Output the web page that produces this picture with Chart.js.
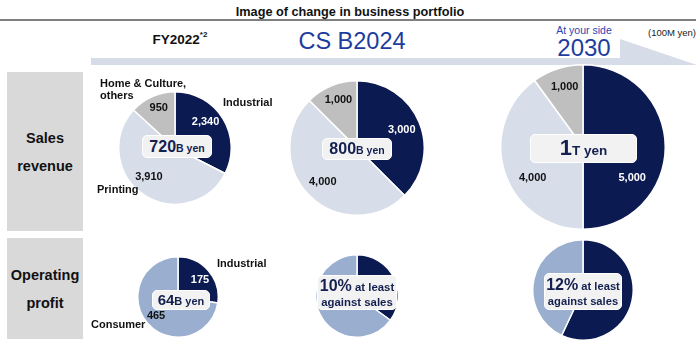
<!DOCTYPE html>
<html>
<head>
<meta charset="utf-8">
<script src="https://cdn.jsdelivr.net/npm/chart.js@4.4.1/dist/chart.umd.min.js"></script>
<style>
  html, body { margin: 0; padding: 0; background: #fff; }
  #wrap { position: relative; width: 700px; height: 353px; overflow: hidden; background: #fff;
          font-family: "Liberation Sans", Arial, sans-serif; color: #111; }
  .abs { position: absolute; white-space: nowrap; }
  .c { transform: translate(-50%, -50%); text-align: center; }
  .lc { transform: translate(0, -50%); }
  .hdr { position: absolute; background: #d9d9d9; }
  .hdrtxt { font-weight: bold; font-size: 14.5px; color: #111; }
  .cat { font-weight: bold; font-size: 11px; color: #111; }
  .box { position: absolute; background: #f2f2f2; border: 1px solid #fff; border-radius: 5px;
         color: #14204f; font-weight: bold; display: flex; flex-direction: column;
         align-items: center; justify-content: center; line-height: 1.1; white-space: nowrap;
         box-sizing: border-box; }
  canvas { position: absolute; }
</style>
</head>
<body>
<div id="wrap">
  <div class="abs c" style="left:350px;top:12px;font-weight:bold;font-size:12.7px;">Image of change in business portfolio</div>
  <div class="abs" style="left:0;top:19px;width:696px;height:2px;background:#7f7f7f;"></div>

  <svg class="abs" style="left:0;top:0;" width="700" height="80">
    <polygon points="91,58 620,58 620,39 697,65 91,65" fill="#d6dde9"></polygon>
    <rect x="545" y="22" width="75" height="36" fill="#fff"></rect>
  </svg>

  <div class="abs c" style="left:180px;top:39px;font-weight:bold;font-size:13.5px;">FY2022<sup style="font-size:8px;position:relative;top:-1px;">*2</sup></div>
  <div class="abs c" style="left:352px;top:41px;font-size:23.5px;color:#1e3c9e;">CS B2024</div>
  <div class="abs c" style="left:584px;top:30px;font-size:10.5px;color:#2a45b0;">At your side</div>
  <div class="abs c" style="left:584px;top:48px;color:#1e3c9e;font-size:24px;">2030</div>
  <div class="abs c" style="left:672px;top:32px;font-size:9.5px;color:#222;">(100M yen)</div>

  <div class="hdr" style="left:7px;top:72px;width:76px;height:159px;"></div>
  <div class="abs c hdrtxt" style="left:45px;top:138px;">Sales</div>
  <div class="abs c hdrtxt" style="left:45px;top:166px;">revenue</div>
  <div class="hdr" style="left:7px;top:238px;width:76px;height:101px;"></div>
  <div class="abs c hdrtxt" style="left:45px;top:275px;">Operating</div>
  <div class="abs c hdrtxt" style="left:45px;top:303px;">profit</div>

  <div id="charts"></div>
  <div id="overlay"></div>
</div>

<script>
// ---------------- data ----------------
const periods = ['FY2022', 'CS B2024', '2030'];
const salesSegments = ['Industrial', 'Printing', 'Home & Culture, others'];
const salesIndustrial = [2340, 3000, 5000];
const salesPrinting   = [3910, 4000, 4000];
const salesHome       = [950, 1000, 1000];
const salesTotals     = ['720', '800', '1'];
const salesUnits      = ['B yen', 'B yen', 'T yen'];

const profitSegments   = ['Industrial', 'Consumer'];
const profitIndustrial = [175, 35, 57];   // 2nd/3rd: shares (unlabelled)
const profitConsumer   = [465, 65, 43];
const profitShowValues = [true, false, false];
const profitHeadline   = ['64', '10%', '12%'];
const profitUnits      = ['B yen', 'at least', 'at least'];
const profitSubline    = ['', 'against sales', 'against sales'];

// ---------------- styles ----------------
const NAVY = '#0b1a51', LIGHT = '#d7dde9', GRAY = '#bfbfbf', STEEL = '#9aafcf';

const sliceLabels = {
  id: 'sliceLabels',
  afterDatasetsDraw(chart, args, opts) {
    if (!opts.show) return;
    const ctx = chart.ctx;
    const meta = chart.getDatasetMeta(0);
    const ds = chart.data.datasets[0];
    ctx.save();
    ctx.font = 'bold 11px "Liberation Sans", Arial, sans-serif';
    ctx.textAlign = 'center';
    ctx.textBaseline = 'middle';
    meta.data.forEach((arc, i) => {
      const p = arc.getProps(['x', 'y', 'startAngle', 'endAngle', 'outerRadius'], true);
      const mid = (p.startAngle + p.endAngle) / 2;
      const f = (opts.factor && opts.factor[i]) || 0.72;
      const n = (opts.nudge && opts.nudge[i]) || [0, 0];
      const x = p.x + Math.cos(mid) * p.outerRadius * f + n[0];
      const y = p.y + Math.sin(mid) * p.outerRadius * f + n[1];
      ctx.fillStyle = opts.colors[i];
      ctx.fillText(ds.data[i].toLocaleString('en-US'), x, y);
    });
    ctx.restore();
  }
};

function makePie(cx, cy, r, data, colors, labelOpts) {
  const size = Math.round(2 * r + 2);
  const cv = document.createElement('canvas');
  cv.width = size; cv.height = size;
  cv.style.left = (cx - size / 2) + 'px';
  cv.style.top = (cy - size / 2) + 'px';
  cv.style.width = size + 'px'; cv.style.height = size + 'px';
  document.getElementById('charts').appendChild(cv);
  new Chart(cv, {
    type: 'pie',
    data: { labels: data.labels, datasets: [{ data: data.values, backgroundColor: colors,
            borderColor: '#ffffff', borderWidth: 1.5 }] },
    options: {
      responsive: false, animation: false, devicePixelRatio: 1,
      layout: { padding: 0 },
      plugins: { legend: { display: false }, tooltip: { enabled: false }, sliceLabels: labelOpts }
    },
    plugins: [sliceLabels]
  });
}

const salesGeo = [[175, 148, 56], [357, 148, 67], [583, 147, 82]];
const salesNudges = [
  [[-4, -5], [-3, -4], [0, -3]],
  [[0, 0], [0, 0], [0, -3]],
  [[-10, 31], [6, 13], [0, -4]]
];
periods.forEach((p, k) => {
  const [cx, cy, r] = salesGeo[k];
  makePie(cx, cy, r,
    { labels: salesSegments, values: [salesIndustrial[k], salesPrinting[k], salesHome[k]] },
    [NAVY, LIGHT, GRAY],
    { show: true, colors: ['#ffffff', '#111111', '#111111'], nudge: salesNudges[k] });
});

const profitGeo = [[178, 297, 40], [357, 296, 41], [583, 290, 50]];
periods.forEach((p, k) => {
  const [cx, cy, r] = profitGeo[k];
  makePie(cx, cy, r,
    { labels: profitSegments, values: [profitIndustrial[k], profitConsumer[k]] },
    [NAVY, STEEL],
    { show: profitShowValues[k], colors: ['#ffffff', '#111111'], factor: [0.72, 0.72], nudge: [[0, 2], [0, 0]] });
});

// ---------------- overlay text ----------------
const ov = document.getElementById('overlay');
function add(html, style, cls) {
  const d = document.createElement('div');
  d.className = cls; d.innerHTML = html; d.setAttribute('style', style);
  ov.appendChild(d);
  return d;
}
// category labels
add('Home &amp; Culture,<br>others', 'left:100px;top:89px;line-height:12px;', 'abs lc cat');
add(salesSegments[0], 'left:223px;top:102px;', 'abs lc cat');
add(salesSegments[1], 'left:97px;top:189px;', 'abs lc cat');
add(profitSegments[0], 'left:217px;top:263px;', 'abs lc cat');
add(profitSegments[1], 'left:91px;top:324px;', 'abs lc cat');

// sales total boxes: left, top, width, height, big font, unit font
const salesBoxes = [[142, 135, 70, 23, 16, 10.5], [322, 138, 70, 22, 16, 10.5], [530, 134, 107, 29, 22, 13.5]];
salesBoxes.forEach((b, k) => {
  add('<div><span style="font-size:' + b[4] + 'px">' + salesTotals[k] + '</span><span style="font-size:' + b[5] + 'px">' + salesUnits[k] + '</span></div>',
      'left:' + b[0] + 'px;top:' + b[1] + 'px;width:' + b[2] + 'px;height:' + b[3] + 'px;', 'box');
});
// profit boxes
const profitBoxes = [[152, 290, 58, 20, 15, 11], [317, 275, 80, 35, 16, 11.4], [544, 273, 78, 37, 16, 11.2]];
profitBoxes.forEach((b, k) => {
  let html = '<div><span style="font-size:' + b[4] + 'px">' + profitHeadline[k] + '</span><span style="font-size:' + b[5] + 'px">' + (k ? ' ' : '') + profitUnits[k] + '</span></div>';
  if (profitSubline[k]) html += '<div style="font-size:' + b[5] + 'px;margin-top:1px">' + profitSubline[k] + '</div>';
  add(html, 'left:' + b[0] + 'px;top:' + b[1] + 'px;width:' + b[2] + 'px;height:' + b[3] + 'px;', 'box');
});
</script>
</body>
</html>
